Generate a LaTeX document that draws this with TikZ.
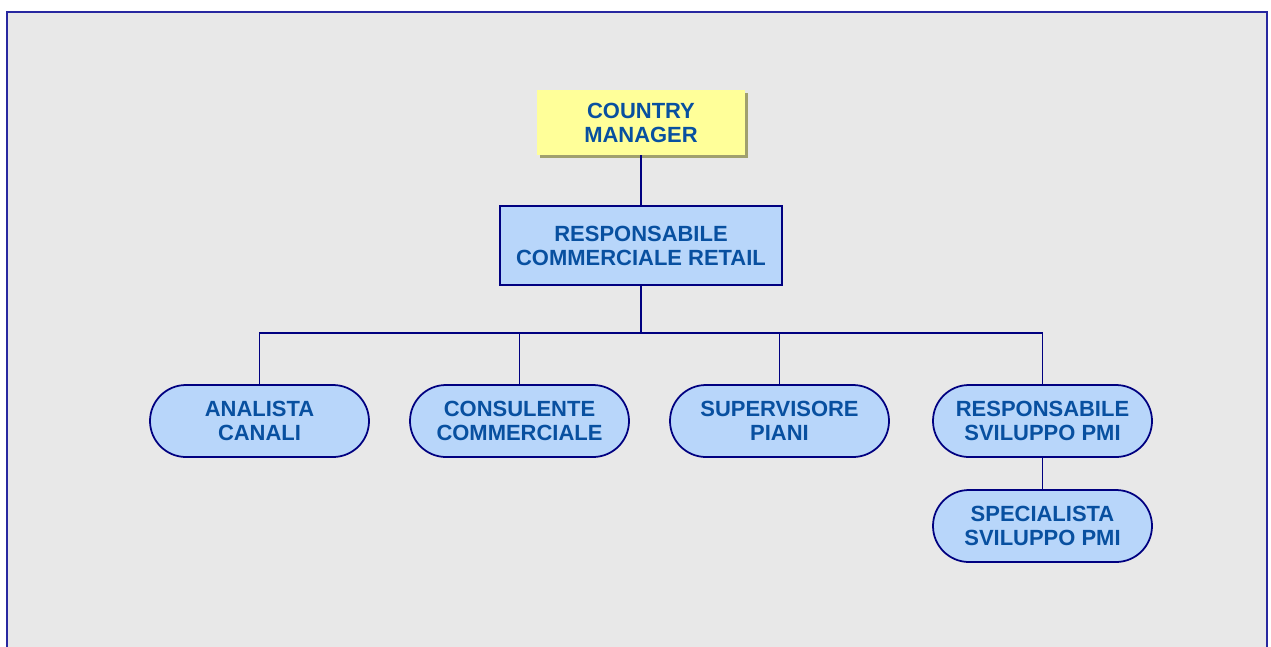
\documentclass[tikz,border=0pt]{standalone}
\usepackage{fontspec}
\setmainfont{Liberation Sans}
\usepackage{xcolor}
\usetikzlibrary{positioning,shadows}
\definecolor{frameblue}{RGB}{40,40,160}
\definecolor{navy}{RGB}{0,0,128}
\definecolor{textblue}{RGB}{8,80,160}
\definecolor{boxblue}{RGB}{184,214,250}
\definecolor{boxyellow}{RGB}{255,255,153}
\definecolor{shadowcol}{RGB}{160,160,110}
\definecolor{bggray}{RGB}{232,232,232}
\tikzset{
  lbl/.style={align=center,text=textblue,font=\fontsize{12.5}{13.7}\selectfont\bfseries},
  topbox/.style={lbl,fill=boxyellow,minimum width=4.16cm,minimum height=1.3cm,
    drop shadow={shadow xshift=0.05cm,shadow yshift=-0.05cm,fill=shadowcol,opacity=1}},
  headbox/.style={lbl,draw=navy,line width=1pt,fill=boxblue,minimum width=5.64cm,minimum height=1.58cm},
  role/.style={lbl,draw=navy,line width=1pt,fill=boxblue,rounded corners=0.72cm,minimum width=4.38cm,minimum height=1.44cm},
  link/.style={draw=navy,line width=0.8pt}
}
\begin{document}
\begin{tikzpicture}[scale=1]
            \useasboundingbox (0,0) rectangle (25.42,-12.92);
            \draw[fill=bggray,draw=frameblue,line width=1pt] (0.14,-14) -- (0.14,-0.24) -- (25.34,-0.24) -- (25.34,-14);

            \node (cm) at (12.82,-2.45) [topbox] {COUNTRY\\MANAGER};
            \node (rcr) at (12.82,-4.91) [headbox] {RESPONSABILE\\COMMERCIALE RETAIL};
            \coordinate (bus) at (12.82,-6.66);

            \node (ac) at (5.19,-8.42) [role] {ANALISTA\\CANALI};
            \node (cc) at (10.39,-8.42) [role] {CONSULENTE\\COMMERCIALE};
            \node (sp) at (15.59,-8.42) [role] {SUPERVISORE\\PIANI};
            \node (rs) at (20.85,-8.42) [role] {RESPONSABILE\\SVILUPPO PMI};
            \node (ss) at (20.85,-10.52) [role] {SPECIALISTA\\SVILUPPO PMI};

            \draw[link] (cm) -- (rcr);
            \draw[link,line width=1.2pt] (rcr) -- (bus);
            \draw[link] (ac.north) |- (bus) (cc.north) |- (bus) (sp.north) |- (bus) (rs.north) |- (bus);
            \draw[link] (rs) -- (ss);

        \end{tikzpicture}
\end{document}
